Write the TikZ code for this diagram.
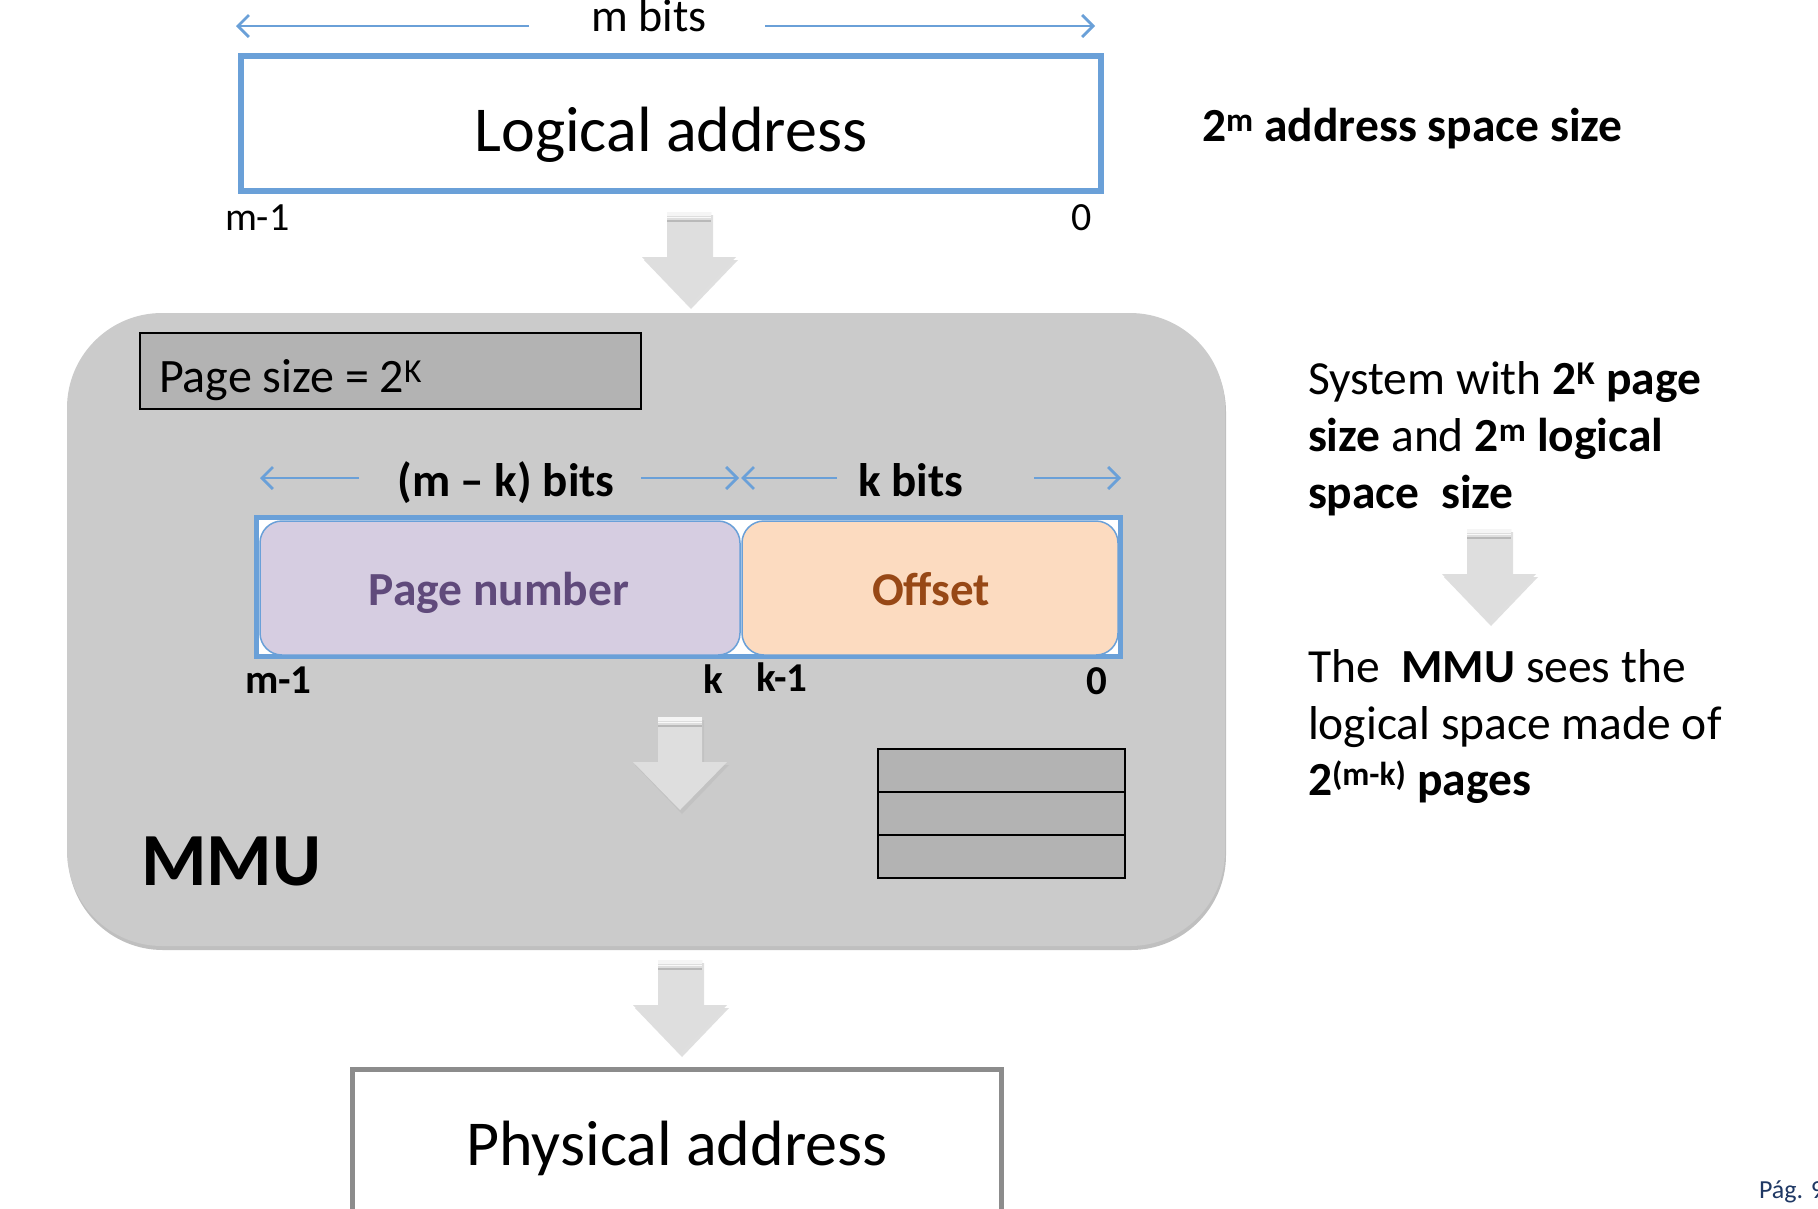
\documentclass[tikz,border=0pt]{standalone}
\usepackage{fontspec}
\setmainfont{Carlito}
\usetikzlibrary{arrows.meta,shadows}
\definecolor{blueline}{RGB}{106,160,216}
\definecolor{mmugray}{RGB}{203,203,203}
\definecolor{boxgray}{RGB}{179,179,179}
\definecolor{arrowgray}{RGB}{222,222,222}
\definecolor{lavender}{RGB}{214,205,225}
\definecolor{peach}{RGB}{252,219,192}
\definecolor{pntext}{RGB}{96,74,123}
\definecolor{offtext}{RGB}{151,72,22}
\definecolor{physgray}{RGB}{140,140,140}
\definecolor{pagblue}{RGB}{31,56,100}
\newcommand{\setfs}[1]{\fontsize{#1}{#1}\selectfont}
\begin{document}
\begin{tikzpicture}[x=1pt,y=-1pt,
  dimarrow/.style={draw=blueline, line width=2.5pt, -{Straight Barb[length=11pt,width=22pt,line width=2.8pt]}},
  txt/.style={inner sep=0pt, outer sep=0pt, text=black},
  rbox/.style={inner sep=0pt, outer sep=0pt},
  rowbox/.style={rbox, draw=black, line width=1.8pt, fill=boxgray, minimum width=247pt, minimum height=43pt},
  blockarrow/.pic={
    \fill[gray!55, opacity=.45] (-20,3) -- (24,3) -- (24,48) -- (49,48) -- (2,97) -- (-45,48) -- (-20,48) -- cycle;
    \fill[arrowgray] (-22,0) -- (22,0) -- (22,45) -- (47,45) -- (0,93) -- (-47,45) -- (-22,45) -- cycle;
    \fill[white!92!gray] (-22,0) rectangle (22,4);
    \draw[gray!55, line width=1.5pt] (-22,9) -- (22,9);
    \draw[white!95!gray, line width=1pt] (-22,5.5) -- (22,5.5);
  }]
\useasboundingbox (0,0) rectangle (1818,1208);
\fill[white] (0,0) rectangle (1818,1208);

% ---- logical address
\coordinate (mbL) at (236,26);
\coordinate (mbLs) at (529,26);
\coordinate (mbR) at (1095,26);
\coordinate (mbRs) at (765,26);
\draw[dimarrow] (mbLs) -- (mbL);
\draw[dimarrow] (mbRs) -- (mbR);
\node[txt, anchor=base] (mbits) at (649,31) {\setfs{46}m bits};
\node[rbox, draw=blueline, line width=6pt, fill=white, minimum width=860pt, minimum height=135pt] (logical) at (671,123.5) {};
\node[txt, anchor=base] (logtext) at (671,151) {\setfs{64}Logical address};
\node[txt, anchor=base west] (lm1) at (225,230) {\setfs{40}m-1};
\node[txt, anchor=base] (l0) at (1082,230) {\setfs{40}0};
\node[txt, anchor=base west] (spacesize) at (1202,141) {\setfs{47.5}\bfseries 2\textsuperscript{m} address space size};

\pic at (689,212) {blockarrow};

% ---- MMU
\node[rbox, fill=mmugray, rounded corners=95pt, minimum width=1158pt, minimum height=633pt,
  drop shadow={shadow xshift=1pt, shadow yshift=-4pt, opacity=.25, fill=black}] (mmu) at (646,629.5) {};
\node[rbox, draw=black, line width=1.5pt, fill=boxgray, minimum width=501pt, minimum height=76pt] (pagesize) at (390.5,371) {};
\node[txt, anchor=base west] (pstext) at (159,392) {\setfs{48}Page size = 2\textsuperscript{K}};

\node[txt, anchor=base] (mkbits) at (506,496) {\setfs{47}\bfseries (m -- k) bits};
\node[txt, anchor=base] (kbits) at (911,496) {\setfs{47}\bfseries k bits};
\coordinate (a1h) at (260,478);
\coordinate (a1s) at (359,478);
\coordinate (a2s) at (641,478);
\coordinate (a2h) at (739,478);
\coordinate (a3h) at (741,478);
\coordinate (a3s) at (837,478);
\coordinate (a4s) at (1034,478);
\coordinate (a4h) at (1121,478);
\draw[dimarrow] (a1s) -- (a1h);
\draw[dimarrow] (a2s) -- (a2h);
\draw[dimarrow] (a3s) -- (a3h);
\draw[dimarrow] (a4s) -- (a4h);

\node[rbox, draw=blueline, line width=5pt, fill=white, minimum width=864pt, minimum height=139pt] (frame) at (688.5,587) {};
\node[rbox, draw=blueline, line width=1.5pt, fill=lavender, rounded corners=22pt, minimum width=480pt, minimum height=134pt] (pn) at (500,588) {};
\node[rbox, draw=blueline, line width=1.5pt, fill=peach, rounded corners=22pt, minimum width=376pt, minimum height=134pt] (off) at (930,588) {};
\node[txt, anchor=base, text=pntext] (pntxt) at (499,605) {\setfs{47.5}\bfseries Page number};
\node[txt, anchor=base, text=offtext] (offtxt) at (931,605) {\setfs{47}\bfseries Offset};

\node[txt, anchor=base west] (bm1) at (245,693) {\setfs{41}\bfseries m-1};
\node[txt, anchor=base] (bk) at (713,693) {\setfs{41}\bfseries k};
\node[txt, anchor=base west] (bk1) at (756,691) {\setfs{41}\bfseries k-1};
\node[txt, anchor=base] (b0) at (1097,694) {\setfs{41}\bfseries 0};

\pic at (680,717) {blockarrow};

\node[rowbox] (r1) at (1001.5,770.5) {};
\node[rowbox] (r2) at (1001.5,813.5) {};
\node[rowbox] (r3) at (1001.5,856.5) {};

\node[txt, anchor=base west] (mmutext) at (141,885) {\setfs{75}\bfseries MMU};

% ---- physical
\pic at (680,960) {blockarrow};
\node[rbox, draw=physgray, line width=5pt, fill=white, minimum width=649pt, minimum height=170pt] (physical) at (677,1154.5) {};
\node[txt, anchor=base] (phystext) at (677,1165) {\setfs{64}Physical address};

% ---- right side notes
\node[txt, anchor=base west] (n1) at (1308,394) {\setfs{47.5}System with \textbf{2\textsuperscript{K} page}};
\node[txt, anchor=base west] (n2) at (1308,451) {\setfs{47.5}\textbf{size} and \textbf{2\textsuperscript{m} logical}};
\node[txt, anchor=base west] (n3) at (1308,508) {\setfs{47.5}\bfseries space\ \ size};
\pic at (1489,529) {blockarrow};
\node[txt, anchor=base west] (n4) at (1308,682) {\setfs{47.5}The\ \ \textbf{MMU} sees the};
\node[txt, anchor=base west] (n5) at (1308,739) {\setfs{47.5}logical space made of};
\node[txt, anchor=base west] (n6) at (1308,795) {\setfs{47.5}\textbf{2\textsuperscript{(m-k)} pages}};

\node[txt, anchor=base west, text=pagblue] (pag) at (1759,1198) {\setfs{26}Pág. 9};
\end{tikzpicture}
\end{document}
